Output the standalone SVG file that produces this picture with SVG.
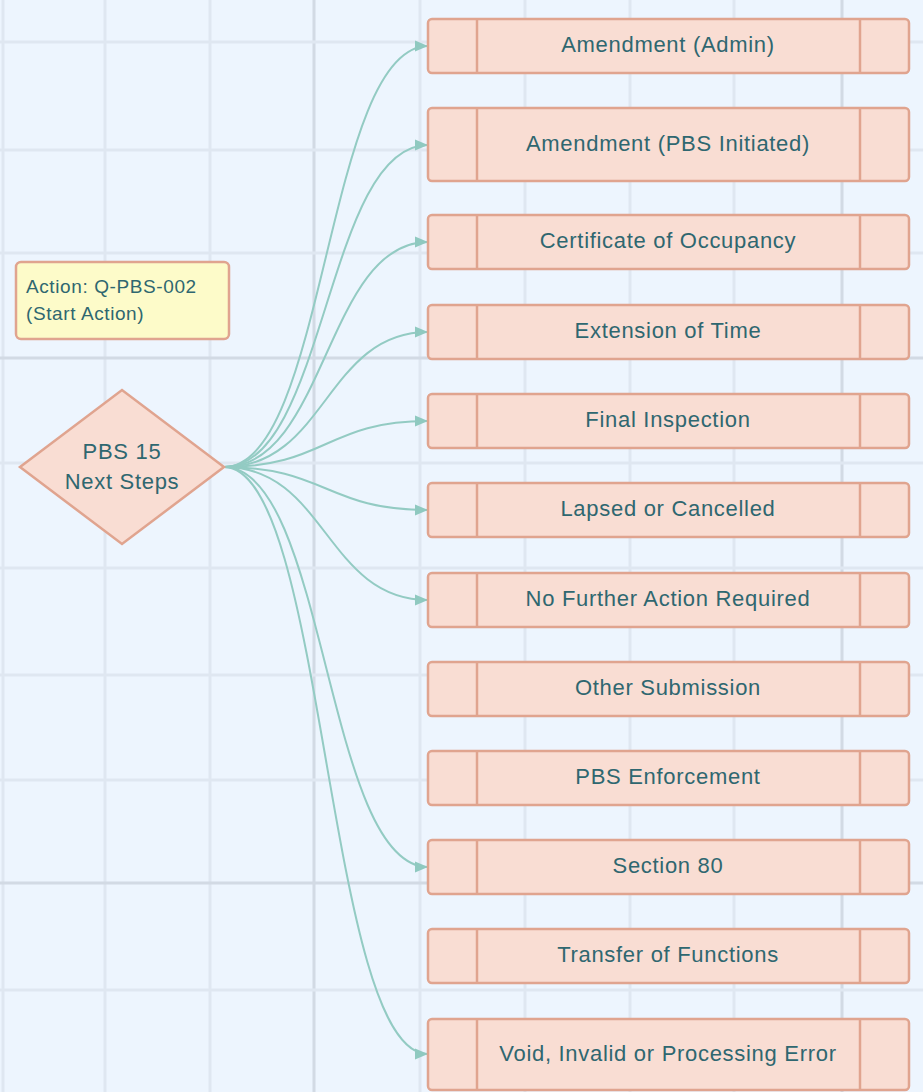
<svg xmlns="http://www.w3.org/2000/svg" width="923" height="1092" viewBox="0 0 923 1092">
<defs>
<marker id="arr" markerUnits="userSpaceOnUse" markerWidth="14" markerHeight="12" refX="13" refY="6" orient="auto">
<path d="M0,0.5 L13,6 L0,11.5 z" fill="#8fc9c0"/>
</marker>
<style>
.grid{stroke:#dfe7f1;stroke-width:3}
.major{stroke:#d2dae4;stroke-width:3}
.box{fill:#f9ddd3;stroke:#e0a48f;stroke-width:2.5}
.div{stroke:#e0a48f;stroke-width:2.5}
.lbl{font-family:"Liberation Sans",Arial,sans-serif;font-size:22px;letter-spacing:0.7px;fill:#2f6770;text-anchor:middle}
.note{font-family:"Liberation Sans",Arial,sans-serif;font-size:19px;letter-spacing:0.6px;fill:#2f6770}
.edge{fill:none;stroke:#93cbc3;stroke-width:2;marker-end:url(#arr)}
</style>
</defs>
<rect width="923" height="1092" fill="#edf5fe"/>
<g id="grid">
<line class="grid" x1="3" y1="0" x2="3" y2="1092"/>
<line class="grid" x1="105" y1="0" x2="105" y2="1092"/>
<line class="grid" x1="210" y1="0" x2="210" y2="1092"/>
<line class="major" x1="314" y1="0" x2="314" y2="1092"/>
<line class="grid" x1="420" y1="0" x2="420" y2="1092"/>
<line class="grid" x1="525" y1="0" x2="525" y2="1092"/>
<line class="grid" x1="630" y1="0" x2="630" y2="1092"/>
<line class="grid" x1="734" y1="0" x2="734" y2="1092"/>
<line class="major" x1="842" y1="0" x2="842" y2="1092"/>
<line class="grid" x1="0" y1="42" x2="923" y2="42"/>
<line class="grid" x1="0" y1="150" x2="923" y2="150"/>
<line class="grid" x1="0" y1="253" x2="923" y2="253"/>
<line class="major" x1="0" y1="358" x2="923" y2="358"/>
<line class="grid" x1="0" y1="463" x2="923" y2="463"/>
<line class="grid" x1="0" y1="568" x2="923" y2="568"/>
<line class="grid" x1="0" y1="675" x2="923" y2="675"/>
<line class="grid" x1="0" y1="780" x2="923" y2="780"/>
<line class="major" x1="0" y1="883" x2="923" y2="883"/>
<line class="grid" x1="0" y1="990" x2="923" y2="990"/>
</g>
<g id="connectors">
<path class="edge" d="M224,467 C326,467 326,46 428,46"/>
<path class="edge" d="M224,467 C326,467 326,145 428,145"/>
<path class="edge" d="M224,467 C326,467 326,242 428,242"/>
<path class="edge" d="M224,467 C326,467 326,332 428,332"/>
<path class="edge" d="M224,467 C326,467 326,421 428,421"/>
<path class="edge" d="M224,467 C326,467 326,510 428,510"/>
<path class="edge" d="M224,467 C326,467 326,600 428,600"/>
<path class="edge" d="M224,467 C326,467 326,867 428,867"/>
<path class="edge" d="M224,467 C326,467 326,1054 428,1054"/>
</g>
<g id="note">
<rect x="16" y="262" width="213" height="77" rx="5" fill="#fdfbc9" stroke="#e0a48f" stroke-width="2.5"/>
<text class="note" x="26" y="293">Action: Q-PBS-002</text>
<text class="note" x="26" y="320">(Start Action)</text>
</g>
<g id="decision">
<polygon class="box" points="20,467 122,390 224,467 122,544"/>
<text class="lbl" x="122" y="459">PBS 15</text>
<text class="lbl" x="122" y="489">Next Steps</text>
</g>
<g id="n1">
<rect class="box" x="428" y="19" width="481" height="54" rx="4"/>
<line class="div" x1="477" y1="19" x2="477" y2="73"/><line class="div" x1="860" y1="19" x2="860" y2="73"/>
<text class="lbl" x="668" y="52">Amendment (Admin)</text>
</g>
<g id="n2">
<rect class="box" x="428" y="108" width="481" height="73" rx="4"/>
<line class="div" x1="477" y1="108" x2="477" y2="181"/><line class="div" x1="860" y1="108" x2="860" y2="181"/>
<text class="lbl" x="668" y="151">Amendment (PBS Initiated)</text>
</g>
<g id="n3">
<rect class="box" x="428" y="215" width="481" height="54" rx="4"/>
<line class="div" x1="477" y1="215" x2="477" y2="269"/><line class="div" x1="860" y1="215" x2="860" y2="269"/>
<text class="lbl" x="668" y="248">Certificate of Occupancy</text>
</g>
<g id="n4">
<rect class="box" x="428" y="305" width="481" height="54" rx="4"/>
<line class="div" x1="477" y1="305" x2="477" y2="359"/><line class="div" x1="860" y1="305" x2="860" y2="359"/>
<text class="lbl" x="668" y="338">Extension of Time</text>
</g>
<g id="n5">
<rect class="box" x="428" y="394" width="481" height="54" rx="4"/>
<line class="div" x1="477" y1="394" x2="477" y2="448"/><line class="div" x1="860" y1="394" x2="860" y2="448"/>
<text class="lbl" x="668" y="427">Final Inspection</text>
</g>
<g id="n6">
<rect class="box" x="428" y="483" width="481" height="54" rx="4"/>
<line class="div" x1="477" y1="483" x2="477" y2="537"/><line class="div" x1="860" y1="483" x2="860" y2="537"/>
<text class="lbl" x="668" y="516">Lapsed or Cancelled</text>
</g>
<g id="n7">
<rect class="box" x="428" y="573" width="481" height="54" rx="4"/>
<line class="div" x1="477" y1="573" x2="477" y2="627"/><line class="div" x1="860" y1="573" x2="860" y2="627"/>
<text class="lbl" x="668" y="606">No Further Action Required</text>
</g>
<g id="n8">
<rect class="box" x="428" y="662" width="481" height="54" rx="4"/>
<line class="div" x1="477" y1="662" x2="477" y2="716"/><line class="div" x1="860" y1="662" x2="860" y2="716"/>
<text class="lbl" x="668" y="695">Other Submission</text>
</g>
<g id="n9">
<rect class="box" x="428" y="751" width="481" height="54" rx="4"/>
<line class="div" x1="477" y1="751" x2="477" y2="805"/><line class="div" x1="860" y1="751" x2="860" y2="805"/>
<text class="lbl" x="668" y="784">PBS Enforcement</text>
</g>
<g id="n10">
<rect class="box" x="428" y="840" width="481" height="54" rx="4"/>
<line class="div" x1="477" y1="840" x2="477" y2="894"/><line class="div" x1="860" y1="840" x2="860" y2="894"/>
<text class="lbl" x="668" y="873">Section 80</text>
</g>
<g id="n11">
<rect class="box" x="428" y="929" width="481" height="54" rx="4"/>
<line class="div" x1="477" y1="929" x2="477" y2="983"/><line class="div" x1="860" y1="929" x2="860" y2="983"/>
<text class="lbl" x="668" y="962">Transfer of Functions</text>
</g>
<g id="n12">
<rect class="box" x="428" y="1019" width="481" height="71" rx="4"/>
<line class="div" x1="477" y1="1019" x2="477" y2="1090"/><line class="div" x1="860" y1="1019" x2="860" y2="1090"/>
<text class="lbl" x="668" y="1061">Void, Invalid or Processing Error</text>
</g>
</svg>
